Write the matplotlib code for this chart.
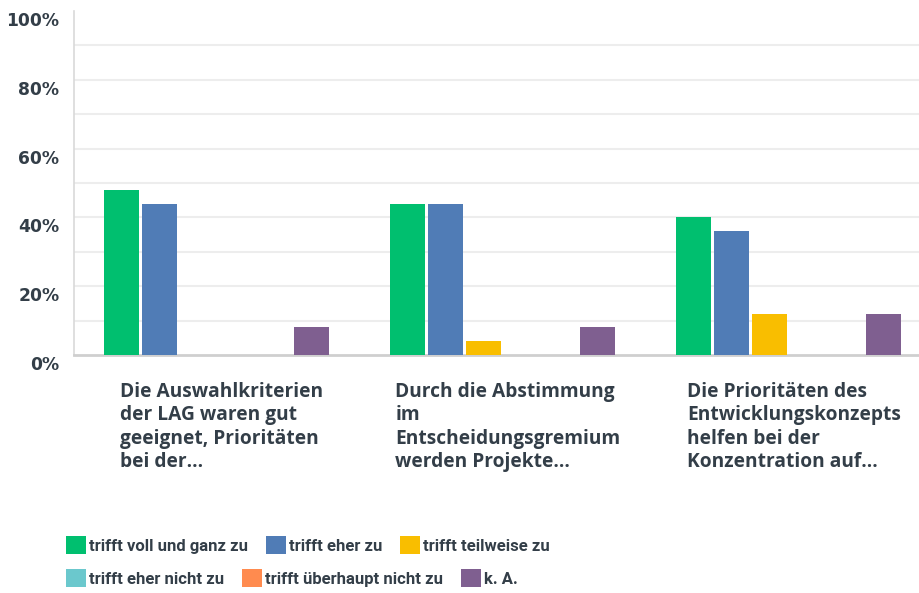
import matplotlib
matplotlib.use('Agg')
import matplotlib.pyplot as plt
from matplotlib.patches import Patch
from matplotlib.transforms import ScaledTranslation

plt.rcParams['font.family'] = ['Roboto', 'DejaVu Sans']

# answer categories (x axis)
questions = [
    "Die Auswahlkriterien\nder LAG waren gut\ngeeignet, Prioritäten\nbei der...",
    "Durch die Abstimmung\nim\nEntscheidungsgremium\nwerden Projekte...",
    "Die Prioritäten des\nEntwicklungskonzepts\nhelfen bei der\nKonzentration auf...",
]

# series (percent of respondents)
series_names = ["trifft voll und ganz zu", "trifft eher zu", "trifft teilweise zu",
                "trifft eher nicht zu", "trifft überhaupt nicht zu", "k. A."]
voll = [48, 44, 40]
eher = [44, 44, 36]
teilweise = [0, 4, 12]
eher_nicht = [0, 0, 0]
ueberhaupt_nicht = [0, 0, 0]
keine_angabe = [8, 8, 12]
all_series = [voll, eher, teilweise, eher_nicht, ueberhaupt_nicht, keine_angabe]

colors = ['#00bf6f', '#507cb6', '#f9be00', '#6bc8cd', '#ff8b4f', '#7f5f90']
text_col = '#333e48'

fig = plt.figure(figsize=(9.2, 5.93), dpi=100)
W, H = 920, 593
ax = fig.add_axes([74 / W, (593 - 355) / H, (920 - 74) / W, (355 - 11) / H])

step = 38 / 286
width = 35 / 286
for i, (vals, c) in enumerate(zip(all_series, colors)):
    xs = [g + (i - 2.5) * step for g in range(len(questions))]
    ax.bar(xs, vals, width=width, color=c, zorder=3)

ax.set_ylim(0, 100)
ax.set_xlim(-0.5, -0.5 + (920 - 74) / 286)

for g in range(10, 100, 10):
    ax.axhline(g, color='#ededed', lw=1.5, zorder=1)

for s in ['top', 'right']:
    ax.spines[s].set_visible(False)
ax.spines['left'].set_color('#d9d9d9')
ax.spines['left'].set_linewidth(1.2)
ax.spines['bottom'].set_color('#cfcfcf')
ax.spines['bottom'].set_linewidth(2)

ax.set_yticks(range(0, 101, 20))
ax.set_yticklabels([f"{v}%" for v in range(0, 101, 20)], family='DejaVu Sans',
                   fontweight='bold', fontsize=12.3, color=text_col)
ax.tick_params(axis='y', length=0, pad=10.5)
for lab in ax.get_yticklabels():
    lab.set_transform(lab.get_transform() + ScaledTranslation(0, -8 / 100, fig.dpi_scale_trans))

ax.set_xticks(range(len(questions)))
ax.set_xticklabels(questions, family='Open Sans', fontsize=13.8, fontweight='bold',
                   color=text_col, linespacing=1.22, va='top', ha='center',
                   multialignment='left')
ax.tick_params(axis='x', length=0, pad=19.5)
for lab in ax.get_xticklabels():
    lab.set_transform(lab.get_transform() + ScaledTranslation(5 / 100, 0, fig.dpi_scale_trans))

handles = [Patch(facecolor=c, edgecolor='none') for c in colors]
leg_kw = dict(frameon=False, ncol=3, handlelength=1.2, handleheight=1.2,
              handletextpad=0.2, columnspacing=1.05, borderpad=0, borderaxespad=0,
              prop={'size': 12, 'weight': 'bold'}, labelcolor=text_col)
leg1 = fig.legend(handles[:3], series_names[:3], loc='center left',
                  bbox_to_anchor=(66 / W, 1 - 545 / H), **leg_kw)
leg2 = fig.legend(handles[3:], series_names[3:], loc='center left',
                  bbox_to_anchor=(66 / W, 1 - 578 / H), **leg_kw)

fig.savefig('out.png', dpi=100)
